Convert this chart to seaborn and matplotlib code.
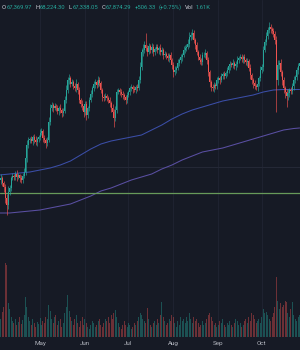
import numpy as np
import pandas as pd
import matplotlib
matplotlib.use("Agg")
import matplotlib.pyplot as plt
import seaborn as sns

# ---------------- data (prices in thousands, volume in K) ----------------
start_date = "2024-04-03"
first_open = 54.8
closes = [
    54.0, 54.4, 53.4, 52.6, 50.4, 49.0, 51.6, 52.4, 54.4, 54.8,
    54.6, 55.2, 54.6, 55.0, 54.4, 54.0, 54.8, 55.6, 58.4, 61.0,
    62.0, 62.2, 61.8, 62.6, 62.0, 61.6, 62.2, 62.6, 63.4, 63.8,
    62.4, 62.0, 61.4, 62.0, 65.6, 68.4, 69.0, 68.4, 68.8, 68.4,
    67.8, 68.4, 68.0, 67.4, 67.8, 70.0, 72.0, 74.0, 74.4, 73.2,
    73.6, 72.8, 72.4, 73.2, 72.0, 70.0, 69.2, 68.8, 67.6, 69.2,
    67.0, 68.4, 70.0, 71.2, 72.4, 73.2, 73.6, 73.0, 74.0, 73.4,
    72.0, 70.6, 70.4, 70.8, 70.4, 70.0, 69.4, 68.4, 67.6, 66.4,
    68.0, 71.6, 72.0, 71.6, 71.2, 71.0, 70.6, 70.0, 71.0, 71.6,
    72.4, 72.6, 72.2, 72.0, 72.6, 72.4, 74.0, 76.6, 79.6, 80.0,
    81.0, 80.4, 79.6, 80.8, 80.0, 80.6, 79.6, 80.2, 80.6, 80.0,
    80.4, 79.6, 80.0, 79.0, 79.2, 78.8, 78.4, 79.0, 78.0, 77.0,
    75.6, 76.0, 76.4, 77.4, 78.0, 78.6, 79.0, 80.0, 80.4, 80.6,
    81.2, 82.6, 83.0, 83.4, 82.0, 81.0, 79.6, 78.6, 78.0, 77.6,
    79.0, 79.0, 79.4, 78.0, 75.6, 73.6, 72.6, 72.4, 73.0, 72.8,
    74.0, 74.4, 74.0, 74.8, 75.2, 74.8, 75.4, 76.0, 76.8, 77.2,
    77.0, 77.4, 76.8, 77.2, 78.0, 78.4, 78.6, 78.2, 78.6, 78.0,
    77.6, 77.8, 76.4, 75.0, 74.0, 73.4, 72.8, 72.6, 73.2, 74.4,
    76.0, 76.6, 80.0, 81.6, 82.8, 84.0, 84.6, 84.2, 83.8, 83.2,
    82.0, 74.0, 77.0, 77.4, 75.6, 74.0, 72.4, 71.6, 70.8, 71.4,
    72.0, 71.8, 72.8, 74.0, 74.6, 76.0, 76.8, 77.4,
]
wick_up = [
    0.6, 0.8, 0.4, 0.5, 0.7, 0.9, 1.2, 0.6, 0.5, 0.7,
    0.4, 0.6, 0.8, 0.5, 0.3, 0.6, 0.7, 0.9, 0.8, 1.0,
    0.6, 0.5, 0.7, 0.4, 0.6, 0.8, 0.5, 0.4, 0.9, 0.6,
    0.5, 0.7, 0.4, 0.6, 1.0, 0.8, 0.6, 0.5, 0.7, 0.4,
    0.6, 0.5, 0.8, 0.4, 0.6, 0.9, 1.0, 0.7, 0.8, 0.5,
    0.6, 0.4, 0.7, 0.9, 0.5, 0.6, 0.4, 0.8, 0.5, 0.6,
    0.7, 0.5, 0.6, 0.8, 0.4, 0.6, 0.7, 0.5, 0.9, 0.6,
    0.5, 0.4, 0.6, 0.7, 0.5, 0.4, 0.6, 0.5, 0.7, 0.6,
    0.8, 0.6, 0.5, 0.4, 0.6, 0.7, 0.5, 0.4, 0.6, 0.5,
    0.4, 0.6, 0.5, 0.7, 0.4, 0.6, 0.8, 1.0, 0.9, 1.2,
    0.8, 2.4, 0.6, 0.7, 0.5, 0.8, 0.6, 0.5, 0.7, 0.6,
    0.5, 0.8, 0.6, 0.4, 0.7, 0.5, 0.6, 0.4, 0.7, 0.5,
    0.6, 0.8, 0.5, 0.7, 0.4, 0.6, 0.5, 0.8, 0.6, 0.7,
    0.9, 1.0, 0.7, 0.8, 0.6, 0.5, 0.7, 0.4, 0.6, 0.5,
    0.7, 0.6, 0.8, 0.5, 0.6, 0.4, 0.5, 0.6, 0.7, 0.4,
    0.6, 0.5, 0.4, 0.7, 0.5, 0.6, 0.4, 0.7, 0.5, 0.6,
    0.5, 0.7, 0.4, 0.6, 0.8, 0.5, 0.6, 0.7, 0.5, 0.6,
    0.4, 0.6, 0.5, 0.7, 0.4, 0.5, 0.6, 0.4, 0.7, 0.5,
    0.8, 0.6, 0.9, 0.7, 0.8, 0.6, 1.0, 0.7, 0.5, 0.6,
    0.6, 0.8, 1.0, 0.6, 0.7, 0.5, 0.6, 0.4, 0.6, 0.8,
    0.5, 0.7, 0.6, 0.8, 0.5, 0.7, 0.6, 0.5,
]
wick_dn = [
    0.5, 0.7, 0.6, 0.9, 1.0, 2.0, 0.8, 0.6, 0.5, 0.4,
    0.6, 0.5, 0.7, 0.4, 0.8, 0.6, 0.5, 0.4, 0.6, 0.7,
    0.5, 0.6, 0.4, 0.7, 0.5, 0.6, 0.8, 0.5, 0.6, 0.4,
    0.7, 0.5, 1.0, 0.6, 0.4, 0.6, 0.5, 0.7, 0.4, 0.6,
    0.5, 0.7, 0.6, 0.8, 0.5, 0.4, 0.6, 0.5, 0.7, 0.6,
    0.4, 0.6, 0.5, 0.7, 0.8, 0.6, 0.5, 0.7, 0.9, 0.6,
    1.0, 0.6, 0.5, 0.4, 0.6, 0.5, 0.7, 0.6, 0.4, 0.5,
    0.6, 0.7, 0.5, 0.4, 0.6, 0.5, 0.7, 0.8, 0.9, 1.8,
    0.6, 0.5, 0.4, 0.6, 0.5, 0.7, 0.6, 0.8, 0.5, 0.4,
    0.6, 0.5, 0.7, 0.4, 0.6, 0.5, 0.4, 0.6, 0.5, 0.7,
    0.6, 0.5, 0.8, 0.4, 0.6, 0.5, 0.7, 0.6, 0.4, 0.5,
    0.7, 0.6, 0.5, 0.8, 0.4, 0.6, 0.5, 0.7, 0.6, 0.8,
    0.9, 0.6, 0.5, 0.4, 0.6, 0.5, 0.7, 0.4, 0.6, 0.5,
    0.4, 0.6, 0.5, 0.7, 0.6, 0.8, 0.5, 0.6, 0.7, 0.5,
    0.6, 0.4, 0.5, 0.7, 0.8, 0.9, 0.7, 0.6, 0.8, 0.5,
    0.6, 0.5, 0.7, 0.4, 0.6, 0.5, 0.4, 0.6, 0.5, 0.7,
    0.4, 0.6, 0.5, 0.7, 0.5, 0.6, 0.4, 0.5, 0.7, 0.6,
    0.5, 0.7, 0.6, 0.8, 0.7, 0.9, 0.6, 0.5, 0.7, 0.4,
    0.6, 0.5, 0.7, 0.4, 0.5, 0.6, 0.5, 0.7, 0.6, 0.5,
    0.8, 6.4, 0.9, 0.7, 0.8, 1.0, 0.9, 1.2, 2.2, 0.8,
    0.7, 0.6, 0.5, 0.8, 0.6, 0.5, 0.7, 0.6,
]
volume = [
    2.2, 1.8, 2.5, 3.0, 7.4, 7.2, 3.4, 2.8, 2.0, 1.6,
    1.4, 1.8, 1.2, 1.5, 2.0, 1.3, 1.7, 2.2, 4.0, 3.0,
    2.0, 1.6, 1.2, 1.8, 1.4, 1.0, 1.5, 1.3, 1.9, 1.2,
    1.6, 1.4, 2.0, 1.8, 3.2, 2.6, 1.8, 1.4, 2.0, 2.2,
    1.2, 1.6, 1.8, 1.0, 1.4, 2.4, 3.0, 4.2, 2.6, 2.0,
    1.6, 1.2, 1.8, 2.2, 1.4, 1.0, 1.6, 2.0, 1.2, 1.8,
    1.4, 1.0, 0.8, 1.2, 1.6, 1.4, 1.0, 1.2, 1.6, 1.8,
    1.2, 1.0, 1.4, 1.8, 1.6, 2.0, 1.4, 2.2, 1.8, 2.4,
    2.7, 2.0, 1.4, 1.0, 0.8, 1.2, 1.6, 1.2, 1.0, 1.4,
    1.2, 0.8, 1.0, 1.4, 1.2, 1.6, 2.0, 2.4, 2.2, 1.8,
    1.6, 1.4, 2.9, 1.8, 1.2, 1.0, 1.4, 1.6, 1.2, 1.8,
    1.4, 2.2, 3.5, 2.0, 1.6, 1.2, 1.4, 1.8, 1.6, 2.2,
    2.0, 1.4, 1.0, 1.6, 1.2, 2.0, 1.6, 1.8, 1.4, 2.0,
    1.6, 2.4, 1.8, 1.4, 2.0, 1.6, 1.8, 1.4, 1.0, 1.2,
    1.6, 1.2, 1.4, 1.8, 2.2, 2.4, 2.0, 1.6, 1.2, 1.4,
    1.0, 1.2, 1.6, 1.4, 1.8, 1.2, 1.0, 1.4, 1.2, 1.6,
    1.2, 1.0, 1.4, 1.8, 1.6, 1.2, 1.4, 1.0, 1.2, 1.6,
    1.8, 1.4, 2.0, 1.6, 2.4, 2.2, 1.8, 1.4, 1.6, 1.8,
    1.4, 2.0, 2.8, 2.4, 2.5, 2.2, 1.8, 1.6, 2.0, 2.4,
    3.0, 6.0, 3.6, 2.8, 3.4, 3.0, 3.2, 3.6, 3.5, 2.4,
    2.0, 2.8, 3.5, 2.2, 1.8, 1.6, 2.0, 2.2,
]
# moving averages sampled weekly (day offsets from start)
ma_days = [0, 7, 14, 21, 28, 35, 42, 49, 56, 63, 70, 77, 84, 91, 98, 105,
           112, 119, 126, 133, 140, 147, 154, 161, 168, 175, 182, 189, 196, 203, 207]
ma_fast = [55.0, 55.2, 55.4, 55.6, 56.0, 56.4, 57.0, 57.8, 59.0, 60.2, 61.2,
           61.8, 62.2, 62.6, 63.0, 64.0, 65.0, 66.2, 67.2, 68.0, 68.6, 69.2,
           69.8, 70.2, 70.6, 71.0, 71.6, 72.0, 72.1, 72.1, 72.1]
ma_slow = [47.4, 47.4, 47.6, 47.8, 48.0, 48.4, 48.8, 49.2, 50.0, 50.8, 51.8,
           52.4, 53.2, 54.0, 54.6, 55.2, 56.2, 57.0, 58.0, 58.8, 59.6, 60.0,
           60.4, 61.0, 61.6, 62.2, 62.8, 63.4, 64.0, 64.3, 64.4]
level_line = 51.4
header_parts = [("O", "67,369.97"), ("H", "68,224.30"), ("L", "67,338.05"),
                ("C", "67,874.29"), ("", "+506.33"), ("", "(+0.75%)"),
                ("Vol", "1.61K")]

# ---------------- style ----------------
BG = "#161a25"
UP = "#26a69a"
DN = "#ef5350"
sns.set_theme(style="dark", rc={"axes.facecolor": BG, "figure.facecolor": BG})
plt.rcParams["font.family"] = ["Roboto", "DejaVu Sans"]

n = len(closes)
opens = [first_open] + closes[:-1]
highs = [max(o, c) + w for o, c, w in zip(opens, closes, wick_up)]
lows = [min(o, c) - w for o, c, w in zip(opens, closes, wick_dn)]
dates = pd.date_range(start_date, periods=n, freq="D")
xs = np.arange(n)
up = np.array(closes) >= np.array(opens)

fig = plt.figure(figsize=(3.0, 3.5), dpi=100)
ax_v = fig.add_axes([0, 13 / 350, 1, 337 / 350])
ax = fig.add_axes([0, 13 / 350, 1, 337 / 350], sharex=ax_v)
ax.patch.set_visible(False)

# volume
vol = np.array(volume)
ax_v.bar(xs[up], vol[up], width=0.7, color=UP, alpha=0.4, linewidth=0)
ax_v.bar(xs[~up], vol[~up], width=0.7, color=DN, alpha=0.4, linewidth=0)
ax_v.set_ylim(0, 33.7)
ax_v.set_yticks([])

# grid
month_idx = [i for i, d in enumerate(dates) if d.day == 1]
for i in month_idx:
    ax_v.axvline(i, color="#1e2230", lw=0.8, zorder=0)
ax.axhline(56.6, color="#242836", lw=0.8, zorder=0)

# moving averages + level
ma_df = pd.DataFrame({"day": ma_days, "fast": ma_fast, "slow": ma_slow})
sns.lineplot(data=ma_df, x="day", y="fast", ax=ax, color="#3b4ea8", lw=0.75, zorder=2)
sns.lineplot(data=ma_df, x="day", y="slow", ax=ax, color="#5a4fa3", lw=0.75, zorder=2)
ax.axhline(level_line, color="#679a5a", lw=0.9, zorder=2)

# candles
o = np.array(opens); c = np.array(closes)
lo = np.array(lows); hi = np.array(highs)
ax.vlines(xs[up], lo[up], hi[up], color=UP, lw=0.45, zorder=3)
ax.vlines(xs[~up], lo[~up], hi[~up], color=DN, lw=0.45, zorder=3)
ax.bar(xs[up], (c - o)[up], bottom=o[up], width=0.7, color=UP, linewidth=0, zorder=4)
ax.bar(xs[~up], (o - c)[~up], bottom=c[~up], width=0.7, color=DN, linewidth=0, zorder=4)

ax.set_ylim(22.6, 90)
ax.set_xlim(0.4, 207.3)
ax.set_yticks([])
ax.set_xlabel(""); ax.set_ylabel("")
ax_v.set_xlabel(""); ax_v.set_ylabel("")
ax.set_xticks(month_idx)
ax.set_xticklabels([dates[i].strftime("%b") for i in month_idx])
ax.tick_params(axis="x", colors="#b2b5be", labelsize=4.5, length=0, pad=2.8)
plt.setp(ax_v.get_xticklabels(), visible=False)
ax_v.tick_params(axis="x", length=0)
for a in (ax, ax_v):
    for s in a.spines.values():
        s.set_visible(False)
    a.grid(False)

# header (chained texts)
HFS = 4.2
prev = fig.text(2 / 300, 1 - 10 / 350, "", fontsize=HFS, va="bottom")
for k, (lab, val) in enumerate(header_parts):
    gap = 0 if k == 0 else 2.2
    if lab:
        prev = ax.annotate(lab, xy=(1, 0), xycoords=prev, xytext=(gap, 0),
                           textcoords="offset points", color="#d1d4dc",
                           fontsize=HFS, va="bottom", annotation_clip=False)
        gap = 0.5 if lab != "Vol" else 1.5
    prev = ax.annotate(val, xy=(1, 0), xycoords=prev, xytext=(gap, 0),
                       textcoords="offset points", color=UP,
                       fontsize=HFS, va="bottom", annotation_clip=False)

fig.savefig("out.png", dpi=100, facecolor=BG)
